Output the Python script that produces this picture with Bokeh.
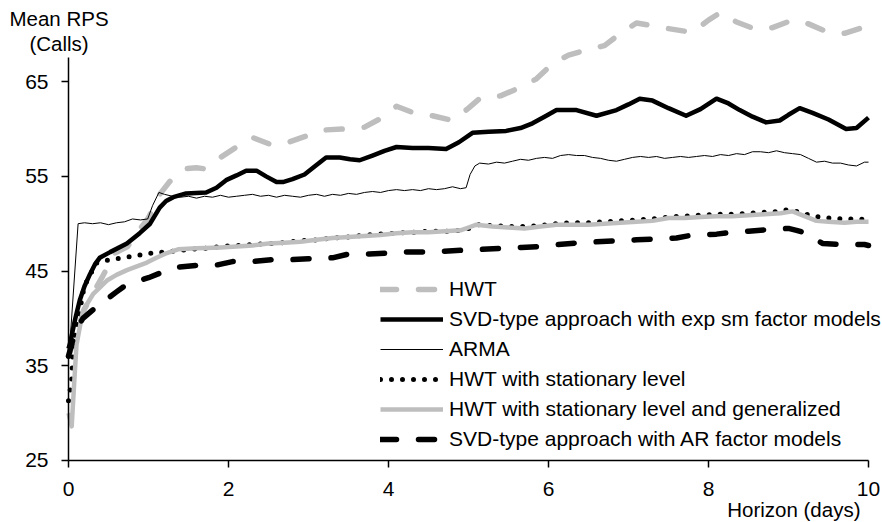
from bokeh.plotting import figure
from bokeh.models import Range1d, Label, Legend, LegendItem
from bokeh.embed import file_html
from bokeh.resources import INLINE

# ---- data: mean RPS (calls) against forecast horizon (days) ----
hwt_x = [0, 0.1, 0.2, 0.33, 0.43, 0.58, 0.74, 0.87, 0.99, 1.07,
         1.14, 1.27, 1.45, 1.6, 1.7, 1.9, 2.1, 2.3, 2.55, 2.75,
         2.95, 3.2, 3.45, 3.7, 3.9, 4.1, 4.35, 4.55, 4.8, 5.0,
         5.15, 5.4, 5.65, 5.85, 6.05, 6.25, 6.45, 6.7, 6.9, 7.1,
         7.3, 7.5, 7.8, 8.0, 8.15, 8.35, 8.6, 8.8, 9.05, 9.25,
         9.5, 9.7, 10.0]
hwt_y = [36.0, 38.5, 41.0, 43.0, 44.5, 46.9, 47.6, 49.2, 50.5, 51.8,
         53.1, 54.5, 55.8, 55.9, 55.8, 57.0, 58.1, 59.1, 58.3, 58.6,
         59.2, 59.9, 60.0, 60.2, 61.1, 62.4, 61.6, 61.4, 60.9, 62.2,
         63.3, 63.5, 64.4, 65.3, 66.9, 67.8, 68.3, 68.8, 70.1, 71.2,
         70.9, 70.6, 70.2, 71.5, 72.3, 71.3, 70.5, 70.7, 71.5, 71.1,
         70.2, 70.1, 70.9]

svd_exp_x = [0, 0.02, 0.08, 0.14, 0.2, 0.27, 0.33, 0.39, 0.52, 0.73,
             0.89, 1.02, 1.14, 1.22, 1.31, 1.47, 1.72, 1.85, 1.97, 2.1,
             2.22, 2.35, 2.47, 2.6, 2.68, 2.8, 2.95, 3.1, 3.22, 3.39,
             3.52, 3.64, 3.8, 3.95, 4.1, 4.3, 4.5, 4.72, 4.88, 5.05,
             5.25, 5.47, 5.65, 5.8, 5.95, 6.1, 6.35, 6.6, 6.85, 7.0,
             7.14, 7.3, 7.5, 7.72, 7.9, 8.1, 8.25, 8.39, 8.55, 8.72,
             8.89, 9.0, 9.14, 9.3, 9.5, 9.72, 9.85, 10.0]
svd_exp_y = [36.8, 37.4, 39.8, 41.9, 43.4, 44.7, 45.7, 46.4, 47.0, 47.9,
             49.0, 50.0, 51.7, 52.4, 52.8, 53.2, 53.3, 53.8, 54.6, 55.1,
             55.6, 55.6, 55.0, 54.4, 54.4, 54.7, 55.2, 56.2, 57.0, 57.0,
             56.8, 56.7, 57.2, 57.7, 58.1, 58.0, 58.0, 57.9, 58.6, 59.6,
             59.7, 59.8, 60.1, 60.6, 61.3, 62.0, 62.0, 61.4, 62.0, 62.6,
             63.2, 63.0, 62.2, 61.4, 62.1, 63.2, 62.7, 62.0, 61.3, 60.7,
             60.9, 61.5, 62.2, 61.7, 61.0, 60.0, 60.1, 61.2]

arma_x = [0, 0.02, 0.12, 0.2, 0.3, 0.4, 0.5, 0.6, 0.7, 0.8,
          0.9, 0.99, 1.05, 1.13, 1.2, 1.3, 1.4, 1.5, 1.6, 1.7,
          1.8, 1.9, 2.0, 2.1, 2.2, 2.3, 2.4, 2.5, 2.6, 2.7,
          2.8, 2.9, 3.0, 3.1, 3.2, 3.3, 3.4, 3.5, 3.6, 3.7,
          3.8, 3.9, 4.0, 4.1, 4.2, 4.3, 4.4, 4.5, 4.6, 4.7,
          4.8, 4.9, 4.97, 5.02, 5.08, 5.14, 5.25, 5.35, 5.45, 5.55,
          5.65, 5.75, 5.85, 5.95, 6.05, 6.15, 6.25, 6.35, 6.45, 6.55,
          6.65, 6.75, 6.85, 6.95, 7.05, 7.15, 7.25, 7.35, 7.45, 7.55,
          7.65, 7.75, 7.85, 7.95, 8.05, 8.15, 8.25, 8.35, 8.45, 8.55,
          8.65, 8.75, 8.85, 8.95, 9.05, 9.15, 9.25, 9.35, 9.45, 9.55,
          9.65, 9.75, 9.85, 9.95, 10.0]
arma_y = [37.0, 37.7, 50.0, 50.1, 50.0, 50.1, 49.9, 50.1, 50.2, 50.5,
          50.4, 50.5, 51.9, 53.3, 53.1, 52.9, 52.8, 52.9, 52.7, 52.9,
          52.8, 53.0, 52.8, 52.9, 53.0, 53.1, 52.9, 53.0, 52.8, 53.0,
          52.9, 52.8, 53.0, 53.1, 52.9, 53.1, 53.0, 53.2, 53.1, 53.3,
          53.4, 53.3, 53.5, 53.6, 53.5, 53.6, 53.5, 53.7, 53.6, 53.7,
          53.9, 53.7, 53.8, 55.2, 56.1, 56.4, 56.3, 56.5, 56.4, 56.6,
          56.8, 56.7, 56.9, 57.0, 56.9, 57.2, 57.3, 57.2, 57.2, 57.0,
          56.9, 56.7, 56.6, 56.8, 57.0, 57.1, 57.0, 57.1, 56.9, 57.0,
          57.1, 57.0, 57.1, 57.2, 57.1, 57.3, 57.2, 57.4, 57.3, 57.6,
          57.6, 57.5, 57.7, 57.5, 57.4, 57.3, 56.9, 56.5, 56.6, 56.4,
          56.4, 56.2, 56.1, 56.5, 56.5]

stat_x = [0, 0.02, 0.04, 0.06, 0.12, 0.17, 0.2, 0.27, 0.33, 0.46,
          0.6, 0.75, 0.89, 1.04, 1.18, 1.33, 1.5, 1.7, 1.9, 2.1,
          2.3, 2.5, 2.7, 2.9, 3.1, 3.3, 3.5, 3.7, 3.9, 4.1,
          4.3, 4.5, 4.7, 4.9, 5.0, 5.1, 5.3, 5.5, 5.7, 5.9,
          6.1, 6.3, 6.5, 6.7, 6.9, 7.1, 7.3, 7.5, 7.7, 7.9,
          8.1, 8.3, 8.5, 8.7, 8.9, 9.0, 9.15, 9.3, 9.5, 9.7,
          9.9, 10.0]
stat_y = [31.3, 32.4, 33.6, 37.4, 39.8, 42.2, 43.5, 44.5, 45.8, 46.1,
          46.3, 46.5, 46.7, 46.9, 47.0, 47.1, 47.3, 47.4, 47.6, 47.7,
          47.8, 47.9, 48.0, 48.2, 48.3, 48.5, 48.6, 48.8, 48.9, 49.0,
          49.1, 49.2, 49.2, 49.3, 49.5, 49.9, 49.8, 49.7, 49.7, 49.8,
          50.0, 50.1, 50.1, 50.2, 50.3, 50.4, 50.5, 50.7, 50.8, 50.9,
          51.0, 51.0, 51.1, 51.2, 51.3, 51.5, 51.2, 50.8, 50.6, 50.5,
          50.5, 50.4]

gen_x = [0, 0.04, 0.07, 0.1, 0.18, 0.31, 0.48, 0.6, 0.73, 0.98,
         1.1, 1.23, 1.37, 1.6, 1.9, 2.1, 2.3, 2.5, 2.7, 2.9,
         3.1, 3.3, 3.5, 3.7, 3.9, 4.1, 4.3, 4.5, 4.7, 4.9,
         5.0, 5.1, 5.3, 5.5, 5.7, 5.9, 6.1, 6.3, 6.5, 6.7,
         6.9, 7.1, 7.3, 7.5, 7.7, 7.9, 8.1, 8.3, 8.5, 8.7,
         8.9, 9.05, 9.2, 9.35, 9.5, 9.7, 9.85, 10.0]
gen_y = [30.0, 28.6, 33.0, 37.2, 40.8, 42.6, 44.0, 44.6, 45.1, 45.9,
         46.4, 46.9, 47.3, 47.4, 47.5, 47.6, 47.7, 47.9, 48.0, 48.1,
         48.3, 48.5, 48.6, 48.7, 48.8, 49.0, 49.1, 49.1, 49.2, 49.3,
         49.6, 49.9, 49.7, 49.6, 49.5, 49.7, 49.9, 49.9, 49.9, 50.0,
         50.1, 50.2, 50.3, 50.6, 50.6, 50.7, 50.8, 50.8, 50.9, 51.0,
         51.1, 51.3, 50.8, 50.3, 50.2, 50.1, 50.2, 50.2]

svd_ar_x = [0, 0.05, 0.1, 0.18, 0.29, 0.39, 0.49, 0.6, 0.68, 0.78,
            0.89, 1.0, 1.12, 1.23, 1.35, 1.6, 1.83, 2.05, 2.3, 2.55,
            2.76, 3.0, 3.3, 3.5, 3.76, 4.0, 4.2, 4.45, 4.7, 4.93,
            5.17, 5.4, 5.66, 5.9, 6.1, 6.4, 6.6, 6.86, 7.1, 7.35,
            7.6, 7.8, 8.1, 8.3, 8.5, 8.76, 9.0, 9.1, 9.22, 9.33,
            9.43, 9.7, 9.95, 10.0]
svd_ar_y = [36.0, 37.6, 38.9, 40.0, 40.8, 41.5, 42.1, 42.8, 43.3, 43.6,
            44.0, 44.3, 44.7, 45.1, 45.4, 45.6, 45.6, 46.0, 46.0, 46.2,
            46.2, 46.3, 46.4, 46.8, 46.8, 46.9, 47.0, 47.0, 47.1, 47.2,
            47.3, 47.4, 47.5, 47.6, 47.8, 48.0, 48.1, 48.2, 48.3, 48.4,
            48.5, 48.8, 48.9, 49.1, 49.2, 49.4, 49.5, 49.3, 49.0, 48.4,
            47.9, 47.8, 47.8, 47.7]

x_ticks = [0, 2, 4, 6, 8, 10]
y_ticks = [25, 35, 45, 55, 65]

labels = [
    "HWT",
    "SVD-type approach with exp sm factor models",
    "ARMA",
    "HWT with stationary level",
    "HWT with stationary level and generalized",
    "SVD-type approach with AR factor models",
]

GRAY = "#BEBEBE"
FONT = "Liberation Sans"

# The frame spans the whole canvas; both axes sit at fixed data positions
# (x = 0 and y = 25) so the titles and the legend can use the margins.
p = figure(width=882, height=522, output_backend="svg", toolbar_location=None,
           title=None, x_range=Range1d(-0.85, 10.175),
           y_range=Range1d(18.45, 73.57),
           min_border_left=0, min_border_right=0, min_border_top=0,
           min_border_bottom=0, background_fill_color="white",
           border_fill_color="white")
p.outline_line_color = None
p.xgrid.visible = False
p.ygrid.visible = False

# series styles: (x, y, color, width, dash)
styles = [
    (hwt_x, hwt_y, GRAY, 5.5, "16 22"),
    (svd_exp_x, svd_exp_y, "black", 4.5, "solid"),
    (arma_x, arma_y, "black", 1.0, "solid"),
    (stat_x, stat_y, "black", 5.0, "0 11"),
    (gen_x, gen_y, GRAY, 4.5, "solid"),
    (svd_ar_x, svd_ar_y, "black", 5.5, "16 22"),
]
items = []
for lab, (xs, ys, color, w, dash) in zip(labels, styles):
    r = p.line(xs, ys, line_color=color, line_width=w, line_dash=dash,
               line_cap="round" if dash != "solid" else "butt",
               line_join="round")
    items.append(LegendItem(label=lab, renderers=[r]))

legend = Legend(items=items, location=(380, 68), orientation="vertical",
                background_fill_alpha=0, border_line_color=None,
                padding=0, margin=0, spacing=0, glyph_width=63,
                glyph_height=30, label_height=30, label_standoff=6,
                label_text_font=FONT, label_text_font_size="21px",
                label_text_color="black")
p.add_layout(legend)

for ax in (p.xaxis[0], p.yaxis[0]):
    ax.axis_line_color = "black"
    ax.axis_line_width = 1.5
    ax.major_tick_line_color = "black"
    ax.major_tick_line_width = 1.5
    ax.major_tick_in = 0
    ax.major_tick_out = 7
    ax.minor_tick_line_color = None
    ax.major_label_text_font = FONT
    ax.major_label_text_font_size = "21px"
    ax.major_label_text_color = "black"

p.xaxis.ticker = x_ticks
p.yaxis.ticker = y_ticks
p.xaxis.fixed_location = 25
p.yaxis.fixed_location = 0
p.xaxis.bounds = (0, 10)
p.yaxis.bounds = (25, 67.55)
p.yaxis.major_label_standoff = 13
p.xaxis.major_label_standoff = 15

title_style = dict(x_units="screen", y_units="screen", text_font=FONT,
                   text_font_size="20.5px", text_color="black",
                   text_baseline="alphabetic")
p.add_layout(Label(x=58.5, y=504, text="Mean RPS", text_align="center", **title_style))
p.add_layout(Label(x=58.5, y=479, text="(Calls)", text_align="center", **title_style))
p.add_layout(Label(x=860, y=13, text="Horizon (days)", text_align="right", **title_style))

open("out.html", "w").write(file_html(p, INLINE))
